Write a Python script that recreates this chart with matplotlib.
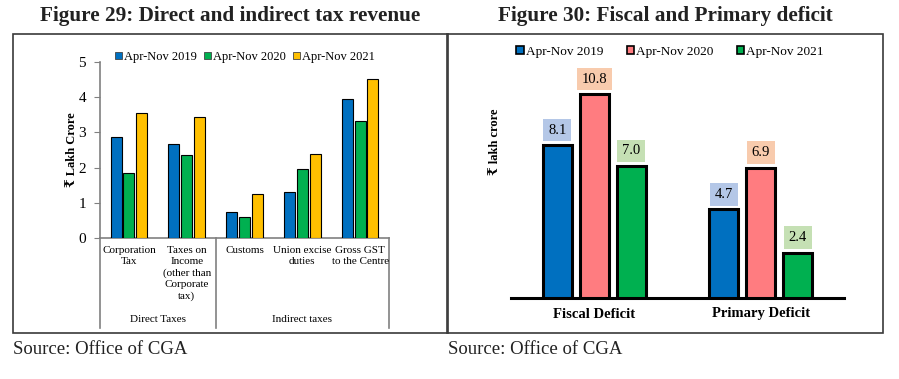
import matplotlib
matplotlib.use("Agg")
import matplotlib.pyplot as plt
from matplotlib.patches import Rectangle, Patch
from matplotlib.lines import Line2D
import matplotlib.transforms as mtransforms

plt.rcParams['font.family'] = ['Liberation Serif', 'DejaVu Serif', 'DejaVu Sans']

# ---------------- data ----------------
tax_categories = ["Corporation\nTax", "Taxes on\nIncome\n(other than\nCorporate\ntax)",
                  "Customs", "Union excise\nduties", "Gross GST\nto the Centre"]
tax_groups = ["Direct Taxes", "Indirect taxes"]
tax_series = ["Apr-Nov 2019", "Apr-Nov 2020", "Apr-Nov 2021"]
tax_2019 = [2.88, 2.66, 0.74, 1.30, 3.96]
tax_2020 = [1.84, 2.35, 0.60, 1.95, 3.31]
tax_2021 = [3.54, 3.45, 1.25, 2.40, 4.52]
tax_yticks = [0, 1, 2, 3, 4, 5]

def_categories = ["Fiscal Deficit", "Primary Deficit"]
def_series = ["Apr-Nov 2019", "Apr-Nov 2020", "Apr-Nov 2021"]
def_2019 = [8.1, 4.7]
def_2020 = [10.8, 6.9]
def_2021 = [7.0, 2.4]

# ---------------- figure ----------------
W, H = 899, 379
fig = plt.figure(figsize=(W / 100, H / 100), dpi=100)

def fx(px):
    return px / W

def fy(py):
    return 1 - py / H

def axrect(x0, y0, x1, y1):
    return [fx(x0), fy(y1), fx(x1) - fx(x0), fy(y0) - fy(y1)]

# frames
for (x0, y0, x1, y1) in [(13, 34, 448, 333), (447, 34, 883, 333)]:
    fig.add_artist(Rectangle((fx(x0), fy(y1)), fx(x1) - fx(x0), fy(y0) - fy(y1),
                             transform=fig.transFigure, fill=False,
                             edgecolor='#3a3a3a', lw=1.2))

# titles
fig.text(fx(230), fy(16), "Figure 29: Direct and indirect tax revenue",
         ha='center', va='center', fontsize=15.3, fontweight='bold', color='#222222')
fig.text(fx(665), fy(16), "Figure 30: Fiscal and Primary deficit",
         ha='center', va='center', fontsize=15.3, fontweight='bold', color='#222222')
fig.text(fx(13), fy(349), "Source: Office of CGA", ha='left', va='center',
         fontsize=13.5, color='#222222')
fig.text(fx(448), fy(349), "Source: Office of CGA", ha='left', va='center',
         fontsize=13.5, color='#222222')

# ---------------- left chart ----------------
cols_l = ['#0070C0', '#00B050', '#FFC000']
ax1 = fig.add_axes(axrect(100, 62, 389, 238))
n = len(tax_categories)
xs = list(range(n))
w = 0.19
off = 0.22
for i, (vals, c, lab) in enumerate(zip([tax_2019, tax_2020, tax_2021], cols_l, tax_series)):
    ax1.bar([x + (i - 1) * off for x in xs], vals, width=w, color=c,
            edgecolor='black', lw=0.8, label=lab, zorder=3)
ax1.set_xlim(-0.5, n - 0.5)
ax1.set_ylim(0, 5)
ax1.set_yticks(tax_yticks)
ax1.set_yticklabels([str(t) for t in tax_yticks], fontsize=11)
ax1.tick_params(axis='y', length=4, color='#808080', pad=6)
ax1.set_xticks([])
for s in ['top', 'right']:
    ax1.spines[s].set_visible(False)
for s in ['left', 'bottom']:
    ax1.spines[s].set_color('#808080')
    ax1.spines[s].set_linewidth(1.2)
ax1.set_ylabel("₹ Lakh Crore", fontsize=9, fontweight='bold')
ax1.yaxis.set_label_coords((78 - 100) / 289, 0.5)

trans1 = mtransforms.blended_transform_factory(ax1.transData, ax1.transAxes)
for x, lab in zip(xs, tax_categories):
    ax1.text(x, (238 - 246) / 176, lab, transform=trans1, ha='center', va='top',
             fontsize=8, linespacing=1.3)
for xb in [-0.5, 1.5, 4.5]:
    ax1.add_line(Line2D([xb, xb], [0, (238 - 328) / 176], transform=trans1,
                        color='#808080', lw=1.2, clip_on=False))
ax1.text(0.5, (238 - 319) / 176, tax_groups[0], transform=trans1, ha='center',
         va='center', fontsize=8)
ax1.text(3.0, (238 - 319) / 176, tax_groups[1], transform=trans1, ha='center',
         va='center', fontsize=8)

h1 = [Patch(facecolor=c, edgecolor='#444444', lw=0.6) for c in cols_l]
fig.legend(h1, tax_series, loc='center', bbox_to_anchor=(fx(245), fy(57)), ncol=3,
           frameon=False, fontsize=9, handlelength=0.55, handleheight=0.55,
           handletextpad=0.15, columnspacing=0.6, borderaxespad=0)

# ---------------- right chart ----------------
cols_r = ['#0070C0', '#FF7C80', '#00B050']
bg_r = ['#B4C7E7', '#F8CBAD', '#C5E0B4']
ax2 = fig.add_axes(axrect(511, 62, 844, 298))
m = len(def_categories)
xs2 = list(range(m))
w2 = 0.174
off2 = 0.222
for i, (vals, c, bg, lab) in enumerate(zip([def_2019, def_2020, def_2021], cols_r, bg_r, def_series)):
    pos = [x + (i - 1) * off2 for x in xs2]
    ax2.bar(pos, vals, width=w2, color=c, edgecolor='black', lw=2.2, label=lab, zorder=3)
    for p, v in zip(pos, vals):
        ax2.annotate(f"{v:.1f}", (p, v), xytext=(0, 15), textcoords='offset pixels',
                     ha='center', va='center', fontsize=10.5,
                     bbox=dict(boxstyle='square,pad=0.33', facecolor=bg, edgecolor='none'))
ax2.set_xlim(-0.5, m - 0.5)
ax2.set_ylim(0, 12.5)
ax2.set_yticks([])
ax2.set_xticks([])
for s in ['top', 'right', 'left']:
    ax2.spines[s].set_visible(False)
ax2.spines['bottom'].set_color('black')
ax2.spines['bottom'].set_linewidth(2.2)
ax2.text((495 - 511) / 333, (298 - 142) / 236, "₹ lakh crore",
         transform=ax2.transAxes, rotation=90, ha='center', va='center',
         fontsize=9, fontweight='bold')
trans2 = mtransforms.blended_transform_factory(ax2.transData, ax2.transAxes)
for x, lab in zip(xs2, def_categories):
    ax2.text(x, (298 - 314) / 236, lab, transform=trans2, ha='center', va='center',
             fontsize=10.5, fontweight='bold')

h2 = [Patch(facecolor=c, edgecolor='black', lw=1.2) for c in cols_r]
fig.legend(h2, def_series, loc='center', bbox_to_anchor=(fx(670), fy(52)), ncol=3,
           frameon=False, fontsize=9.5, handlelength=0.55, handleheight=0.55,
           handletextpad=0.15, columnspacing=1.8, borderaxespad=0)

fig.savefig("out.png", dpi=100)
